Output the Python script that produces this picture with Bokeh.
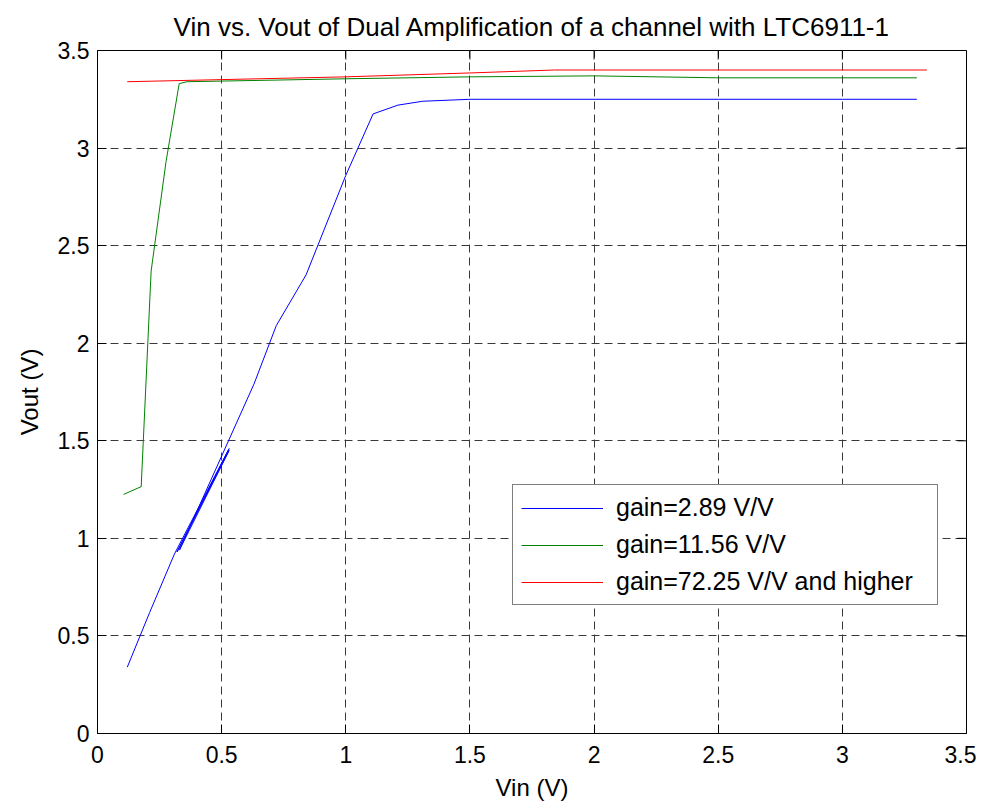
import math
from bokeh.plotting import figure
from bokeh.models import (FixedTicker, CustomJSTickFormatter, Legend, LegendItem, Range1d)
from bokeh.embed import file_html
from bokeh.resources import INLINE

# ---- data ----
blue_x = [0.12, 0.21, 0.31, 0.53, 0.32, 0.53, 0.33, 0.63, 0.72, 0.84, 1.00, 1.11, 1.21, 1.31, 1.50, 2.00, 2.50, 3.00, 3.30]
blue_y = [0.34, 0.62, 0.92, 1.46, 0.93, 1.45, 0.94, 1.79, 2.09, 2.35, 2.86, 3.175, 3.22, 3.24, 3.25, 3.25, 3.25, 3.25, 3.25]

green_x = [0.105, 0.176, 0.216, 0.276, 0.329, 0.36, 1.0, 1.5, 2.0, 2.5, 3.0, 3.3]
green_y = [1.225, 1.265, 2.37, 2.93, 3.33, 3.34, 3.355, 3.365, 3.37, 3.36, 3.36, 3.36]

red_x = [0.12, 1.0, 1.5, 1.84, 2.0, 2.5, 3.0, 3.34]
red_y = [3.34, 3.365, 3.385, 3.40, 3.40, 3.40, 3.40, 3.40]

series_labels = ["gain=2.89 V/V", "gain=11.56 V/V", "gain=72.25 V/V and higher"]

x_ticks = [0, 0.5, 1, 1.5, 2, 2.5, 3, 3.5]
x_tick_labels = ["0", "0.5", "1", "1.5", "2", "2.5", "3", "3.5"]
y_ticks = [0, 0.5, 1, 1.5, 2, 2.5, 3, 3.5]
y_tick_labels = ["0", "0.5", "1", "1.5", "2", "2.5", "3", "3.5"]

title_text = "Vin vs. Vout of Dual Amplification of a channel with LTC6911-1"
x_label = "Vin (V)"
y_label = "Vout (V)"

FONT = "Liberation Sans"

p = figure(frame_width=869, frame_height=683,
           x_range=Range1d(0, 3.5), y_range=Range1d(0, 3.5),
           output_backend="svg", toolbar_location=None,
           min_border_left=97, min_border_right=10, min_border_top=46, min_border_bottom=10,
           title=title_text)
p.background_fill_color = "white"
p.border_fill_color = "white"
p.outline_line_color = "black"
p.outline_line_width = 1

p.title.align = "center"
p.title.text_font = FONT
p.title.text_font_size = "26px"
p.title.text_font_style = "normal"
p.title.text_color = "black"
p.title.standoff = 18


def fmt(ticks, labels):
    return CustomJSTickFormatter(args=dict(tvals=ticks, tlabels=labels), code="""
        const i = tvals.findIndex(t => Math.abs(t - tick) < 1e-9);
        return i >= 0 ? tlabels[i] : '';
    """)


def style_axis(ax, ticks, labels):
    ax.ticker = FixedTicker(ticks=ticks)
    ax.formatter = fmt(ticks, labels)
    ax.axis_line_color = "black"
    ax.major_tick_line_color = "black"
    ax.major_tick_in = 9
    ax.major_tick_out = 0
    ax.minor_tick_line_color = None
    ax.major_label_text_font = FONT
    ax.major_label_text_color = "black"
    ax.major_label_text_font_size = "23px"


xa = p.xaxis[0]
style_axis(xa, x_ticks, x_tick_labels)
xa.major_label_standoff = 12
xa.axis_label = x_label
xa.axis_label_text_font = FONT
xa.axis_label_text_font_size = "24px"
xa.axis_label_text_font_style = "normal"
xa.axis_label_text_color = "black"
xa.axis_label_standoff = 8

ya = p.yaxis[0]
style_axis(ya, y_ticks, y_tick_labels)
ya.major_label_standoff = 8
ya.axis_label = y_label
ya.axis_label_text_font = FONT
ya.axis_label_text_font_size = "24px"
ya.axis_label_text_font_style = "normal"
ya.axis_label_text_color = "black"
ya.axis_label_standoff = 12

p.xgrid.ticker = FixedTicker(ticks=x_ticks)
p.ygrid.ticker = FixedTicker(ticks=y_ticks)
for g in (p.xgrid[0], p.ygrid[0]):
    g.grid_line_color = "#3a3a3a"
    g.grid_line_width = 1
    g.grid_line_dash = "8 5"

# inward tick marks on the top and right edges of the box
p.ray(x=x_ticks, y=[p.y_range.end] * len(x_ticks), length=9, length_units="screen",
      angle=-math.pi / 2, line_color="black", line_width=1)
p.ray(x=[p.x_range.end] * len(y_ticks), y=y_ticks, length=9, length_units="screen",
      angle=math.pi, line_color="black", line_width=1)

rb = p.line(blue_x, blue_y, line_color="#0000ff", line_width=1)
rg = p.line(green_x, green_y, line_color="#008000", line_width=1)
rr = p.line(red_x, red_y, line_color="#ff0000", line_width=1)

legend = Legend(items=[LegendItem(label=series_labels[0], renderers=[rb]),
                       LegendItem(label=series_labels[1], renderers=[rg]),
                       LegendItem(label=series_labels[2], renderers=[rr])],
                location=(415, 128))
legend.label_text_font = FONT
legend.label_text_font_size = "25px"
legend.label_text_color = "black"
legend.border_line_color = "black"
legend.border_line_width = 1
legend.background_fill_color = "white"
legend.background_fill_alpha = 1
legend.padding = 8
legend.margin = 0
legend.spacing = 8
legend.glyph_width = 82
legend.glyph_height = 28
legend.label_height = 28
legend.label_width = 313
legend.label_standoff = 13
p.add_layout(legend, "center")

open("out.html", "w").write(file_html(p, INLINE))
